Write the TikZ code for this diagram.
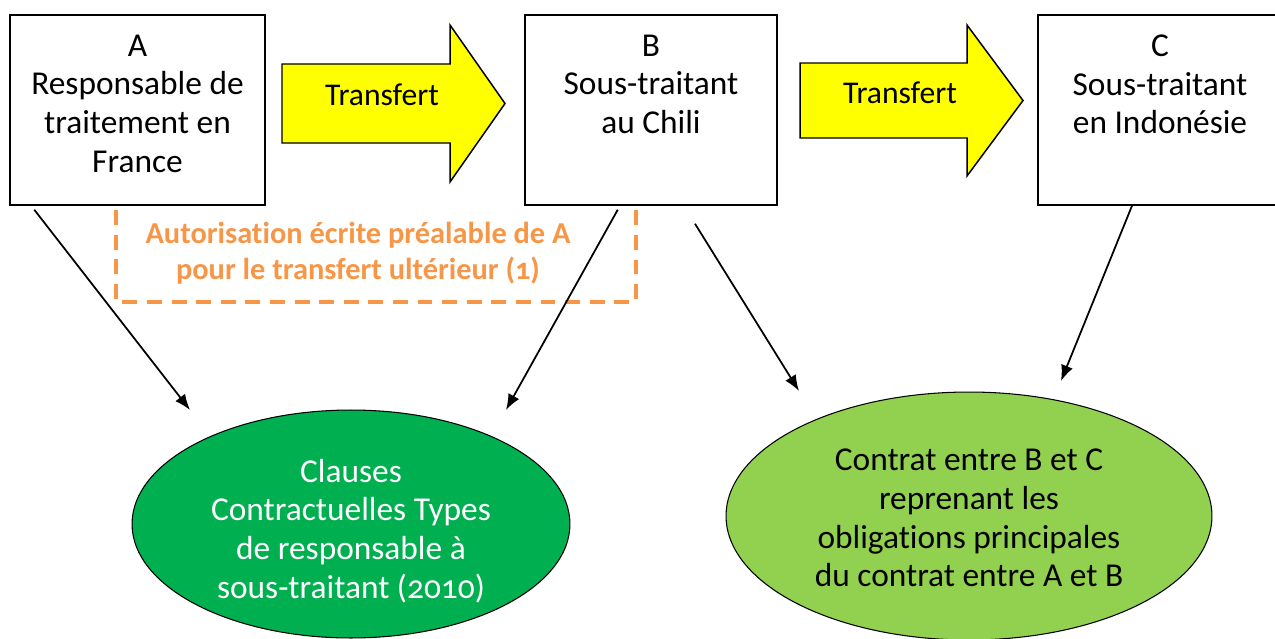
\documentclass[tikz,border=0pt]{standalone}
\usepackage{fontspec}
\setmainfont[Numbers=OldStyle, Ligatures=NoCommon]{Carlito}
\usetikzlibrary{positioning,shapes.geometric,arrows.meta}
\definecolor{orangeA}{HTML}{F79646}
\definecolor{greenCCT}{HTML}{00B050}
\definecolor{greenBC}{HTML}{92D050}
\definecolor{yellowT}{HTML}{FFFF00}
\tikzset{
    box/.style={draw, line width=0.85pt, minimum height=3.8cm, inner sep=0pt},
    boxtext/.style={align=center, inner sep=0pt, font=\fontsize{19}{22.1}\selectfont},
    transfert/.style={draw, line width=0.85pt, fill=yellowT},
    oval/.style={draw, ellipse, line width=0.6pt, inner sep=0pt},
    link/.style={line width=1pt, -{Latex[length=9pt,width=7pt]}}
}
\begin{document}
\begin{tikzpicture}[x=0.02cm, y=-0.02cm]
    \useasboundingbox (0,0) rectangle (1275,639);

    % The three parties
    \node[box, minimum width=5.1cm] (A) at (137.5,110) {};
    \node[boxtext, below=0.4cm of A.north] (Atext) {A\\Responsable de\\traitement en\\France};
    \node[box, minimum width=5.04cm] (B) at (651,110) {};
    \node[boxtext, below=0.4cm of B.north] (Btext) {B\\Sous-traitant\\au Chili};
    \node[box, minimum width=4.88cm] (C) at (1160,110) {};
    \node[boxtext, below=0.4cm of C.north] (Ctext) {C\\Sous-traitant\\en Indonésie};

    % Transfer arrows
    \draw[transfert] (282,64) -- (450,64) -- (450,25) -- (505,103.5) -- (450,182) -- (450,143) -- (282,143) -- cycle;
    \node[boxtext, font=\fontsize{18}{21}\selectfont] (T1) at (382,95) {Transfert};
    \draw[transfert] (800,63) -- (967,63) -- (967,25) -- (1023,100.5) -- (967,176) -- (967,138) -- (800,138) -- cycle;
    \node[boxtext, font=\fontsize{18}{21}\selectfont] (T2) at (900,93) {Transfert};

    % Prior authorisation
    \draw[orangeA, line width=2.3pt, dash pattern=on 8.5pt off 5.5pt] (116,210) -- (116,302) -- (636,302) -- (636,207);
    \node[align=center, inner sep=0pt, text=orangeA, font=\fontsize{17.3}{20.4}\selectfont\bfseries] (auth) at (358,253)
        {Autorisation écrite préalable de A\\pour le transfert ultérieur (1)};

    % Contracts
    \node[oval, fill=greenCCT, minimum width=8.76cm, minimum height=4.56cm] (CCT) at (351,524) {};
    \node[boxtext, text=white] (CCTtext) at (351,531) {Clauses\\Contractuelles Types\\de responsable à\\sous-traitant (2010)};
    \node[oval, fill=greenBC, minimum width=9.72cm, minimum height=4.96cm] (BC) at (969,516) {};
    \node[boxtext] (BCtext) at (969,518) {Contrat entre B et C\\reprenant les\\obligations principales\\du contrat entre A et B};

    % Links
    \coordinate (tipA) at (190,410);
    \coordinate (tipB) at (506,410);
    \coordinate (tipBC) at (799,391);
    \coordinate (tipC) at (1061,381);
    \draw[link] ([xshift=0.5cm, yshift=-0.08cm]A.south west) -- (tipA);
    \draw[link] ([xshift=-3.2cm, yshift=-0.08cm]B.south east) -- (tipB);
    \draw[link] ([xshift=0.88cm, yshift=-0.36cm]B.south) -- (tipBC);
    \draw[link] ([xshift=-0.56cm]C.south) -- (tipC);
\end{tikzpicture}
\end{document}
